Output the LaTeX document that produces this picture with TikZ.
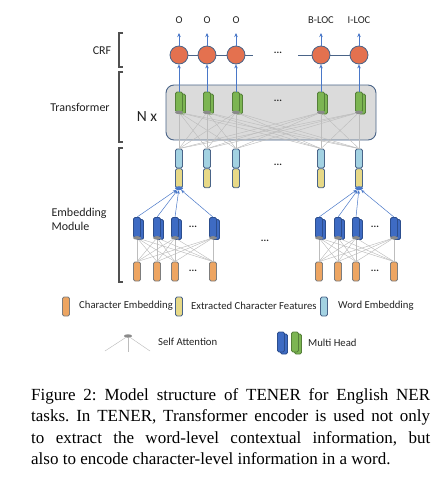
\documentclass[tikz,border=0pt]{standalone}
\usepackage{fontspec}
\setmainfont{Liberation Serif}
\newfontfamily\diagfont{Carlito}
\usetikzlibrary{arrows.meta,positioning,calc,shapes.geometric}
\definecolor{Edge}{HTML}{4A6488}
\definecolor{CrfRed}{HTML}{E4714F}
\definecolor{Leaf}{HTML}{7CB552}
\definecolor{LeafEdge}{HTML}{557F39}
\definecolor{Sky}{HTML}{A3D2E2}
\definecolor{Straw}{HTML}{E7D987}
\definecolor{Peach}{HTML}{EDA562}
\definecolor{PeachEdge}{HTML}{7D7D7D}
\definecolor{Royal}{HTML}{3E6BC3}
\definecolor{RoyalEdge}{HTML}{2C4E8E}
\definecolor{Hub}{HTML}{8A8A8A}
\definecolor{Wire}{HTML}{BDBDBD}
\definecolor{ArrowBlue}{HTML}{4A78C8}
\definecolor{Panel}{HTML}{DBDBDB}
\definecolor{Ink}{HTML}{222222}
\definecolor{Bracket}{HTML}{505050}
\tikzset{
  side/.style={font=\diagfont\fontsize{12}{14.5}\selectfont,text=Ink,align=left},
  tag/.style={font=\diagfont\fontsize{10.5}{12}\selectfont,text=Ink},
  key/.style={font=\diagfont\fontsize{10.7}{12}\selectfont,text=Ink,anchor=west,inner sep=0pt},
  dots/.style={font=\diagfont\bfseries\fontsize{10}{12}\selectfont,text=Ink},
  crf/.style={circle,draw=Edge,fill=CrfRed,line width=.8pt,minimum size=18pt,inner sep=0pt},
  cell/.style={rounded corners=1.5pt,line width=.8pt,minimum width=7pt,minimum height=19pt,inner sep=0pt},
  word/.style={cell,draw=Edge,fill=Sky},
  feat/.style={cell,draw=Edge,fill=Straw},
  char/.style={cell,draw=PeachEdge,fill=Peach},
  head/.style={cell,draw=LeafEdge,fill=Leaf,minimum height=20pt},
  mhead/.style={cell,draw=RoyalEdge,fill=Royal,minimum height=20pt},
  hub/.style={ellipse,fill=Hub,minimum width=8pt,minimum height=3.5pt,inner sep=0pt},
  bhub/.style={ellipse,fill=ArrowBlue,minimum width=8pt,minimum height=4pt,inner sep=0pt},
  attn/.style={draw=Wire,line width=.45pt},
  up/.style={-{Stealth[length=4pt,width=3.5pt]},draw=ArrowBlue,line width=.6pt},
  gather/.style={-{Stealth[length=3.5pt,width=3pt]},draw=ArrowBlue,line width=.5pt},
  chain/.style={draw=Edge,line width=.8pt},
  bracket/.style={draw=Bracket,line width=1.1pt},
  panel/.style={draw=Edge,fill=Panel,rounded corners=8pt,line width=.9pt,minimum width=210pt,minimum height=55pt},
}

\begin{document}
\begin{tikzpicture}[x=1pt,y=-1pt]
  \useasboundingbox (0,0) rectangle (445,477);
  % transformer panel
  \node[panel] (tf) at (271,112.5) {};
  \node[font=\diagfont\fontsize{15.5}{18}\selectfont,text=Ink] (nx) at (147,117) {N x};
  % word columns: crf, transformer head, word + feature cells
  \foreach \x/\t [count=\i] in {179/O,207/O,236/O,321/B-LOC,359/I-LOC}{
    \node[head] (gb\i) at (\x+3,104) {};
    \node[head] (g\i) at (\x,102) {};
    \node[hub] (h\i) at (g\i.south) {};
    \node[word] (w\i) at (\x,158.5) {};
    \node[feat,anchor=north] (f\i) at (w\i.south) {};
    \node[crf] (c\i) at (\x,55) {};
    \coordinate (t\i) at (\x,33);
    \node[tag] (o\i) at (\x,20) {\t};
    \draw[up] (g\i.north) -- (c\i.south);
    \draw[up] (c\i.north) -- (t\i);
  }
  % self attention wiring
  \foreach \i in {1,...,5}{
    \foreach \j in {1,...,5}{
      \draw[attn] (h\i) -- (w\j.north);
    }
  }
  \draw[chain] (c1) -- (c2) -- (c3);
  \draw[chain] (c4) -- (c5);
  \coordinate (cl) at (253,55);
  \coordinate (cr) at (298,55);
  \draw[chain] (c3) -- (cl);
  \draw[chain] (cr) -- (c4);
  \node[dots] (d1) at (278,53) {...};
  \node[dots] (d2) at (278,101) {...};
  \node[dots] (d3) at (278,165) {...};
  % character level encoders
  \node[bhub] (bl) at (f1.south) {};
  \node[bhub] (br) at (f5.south) {};
  \foreach \x [count=\i] in {137,157,175,213}{
    \node[mhead] (lmb\i) at (\x+3,229.5) {};
    \node[mhead] (lm\i) at (\x,227.5) {};
    \node[hub] (lh\i) at (lm\i.south) {};
    \node[char] (lc\i) at (\x,271.5) {};
    \draw[gather] (lm\i.north) -- (bl);
  }
  \foreach \x [count=\i] in {319,338,356,394}{
    \node[mhead] (rmb\i) at (\x+3,229.5) {};
    \node[mhead] (rm\i) at (\x,227.5) {};
    \node[hub] (rh\i) at (rm\i.south) {};
    \node[char] (rc\i) at (\x,271.5) {};
    \draw[gather] (rm\i.north) -- (br);
  }
  \foreach \i in {1,...,4}{
    \foreach \j in {1,...,4}{
      \draw[attn] (lh\i) -- (lc\j.north);
      \draw[attn] (rh\i) -- (rc\j.north);
    }
  }
  \node[dots] (d4) at (193,227) {...};
  \node[dots] (d5) at (193,271) {...};
  \node[dots] (d6) at (375,227) {...};
  \node[dots] (d7) at (375,271) {...};
  \node[dots] (d8) at (265,241) {...};
  % brackets and side labels
  \draw[bracket] (123,33) -- (119,33) -- (119,67) -- (123,67);
  \draw[bracket] (123,72) -- (119,72) -- (119,142) -- (123,142);
  \draw[bracket] (123,148) -- (119,148) -- (119,282) -- (123,282);
  \node[side] (lcrf) at (102,51) {CRF};
  \node[side] (ltf) at (80,107) {Transformer};
  \node[side,anchor=west] (lemb) at (48,219.5) {Embedding\\Module};
  % legend
  \node[char] (k1) at (66,306.5) {};
  \node[key] (kt1) at (79,306) {Character Embedding};
  \node[feat] (k2) at (179,306.5) {};
  \node[key] (kt2) at (191,306) {Extracted Character Features};
  \node[word] (k3) at (324,306.5) {};
  \node[key] (kt3) at (338,306) {Word Embedding};
  \node[hub] (k4) at (128,336) {};
  \coordinate (s1) at (105,351);
  \coordinate (s2) at (128,352);
  \coordinate (s3) at (150,351);
  \draw[attn] (k4) -- (s1);
  \draw[attn] (k4) -- (s2);
  \draw[attn] (k4) -- (s3);
  \node[key] (kt4) at (158,342) {Self Attention};
  \node[mhead] (k5b) at (284,344) {};
  \node[mhead] (k5) at (281,342) {};
  \node[head] (k6b) at (298,344) {};
  \node[head] (k6) at (295,342) {};
  \node[key] (kt5) at (308,343) {Multi Head};
  % caption
  \node[anchor=north west,inner sep=0pt,text width=399pt,align=justify,
        font=\frenchspacing\fontsize{17}{21.5}\selectfont] (cap) at (31,388) {Figure 2: Model structure of TENER for English NER\linebreak tasks. In TENER, Transformer encoder is used not only\linebreak to extract the word-level contextual information, but\linebreak also to encode character-level information in a word.};
\end{tikzpicture}
\end{document}
